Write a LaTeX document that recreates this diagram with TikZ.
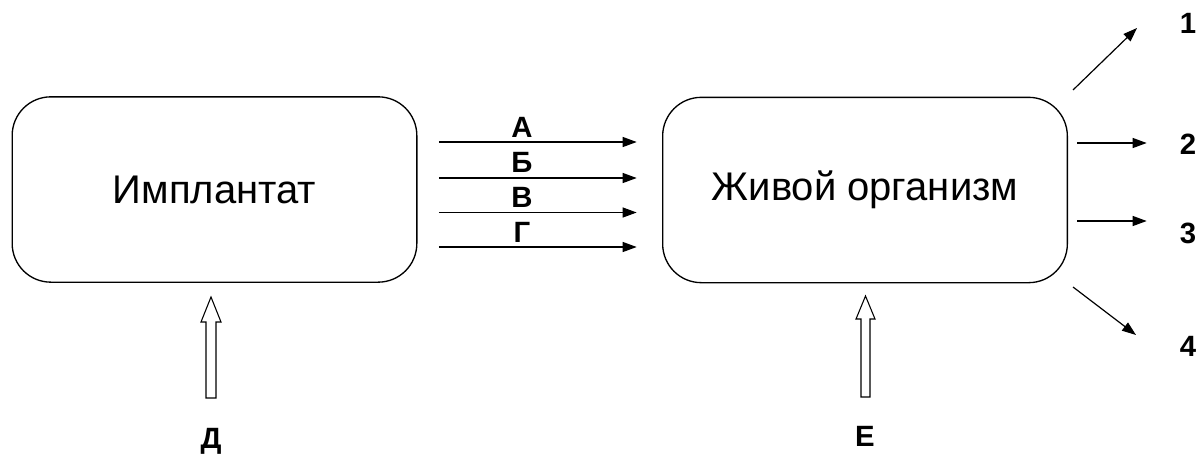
\documentclass[tikz,border=0pt]{standalone}
\usepackage{fontspec}
\setmainfont{Liberation Sans}
\usetikzlibrary{arrows.meta,calc}
\begin{document}
\begin{tikzpicture}[x=0.75pt,y=-0.75pt,
  box/.style={draw,line width=1pt,rounded corners=29pt,minimum width=303.5pt,minimum height=139pt,inner sep=0pt,font=\fontsize{30}{34}\selectfont},
  arr/.style={line width=0.9pt,-{Triangle[length=10.5pt,width=7.5pt]}},
  lab/.style={font=\fontsize{22}{24}\selectfont\bfseries,inner sep=0pt},
  hollow/.style={draw,line width=0.8pt,fill=white,line join=miter}]
\useasboundingbox (0,0) rectangle (1196,457);
\node[box] (impl) at (214.5,189.5) {Имплантат};
\node[box] (org) at (865,190) {Живой организм};
% flows
\foreach \yy in {142,178,212.5,247}{
  \draw[arr,shorten <=16pt,shorten >=19pt] (impl.east |- 0,\yy) -- (org.west |- 0,\yy);
}
\node[lab] (la) at (522,127) {А};
\node[lab] (lb) at (522,162) {Б};
\node[lab] (lc) at (522,197) {В};
\node[lab] (ld) at (522,232) {Г};
% outputs
\node[lab] (n1) at (1188,23) {1};
\node[lab] (n2) at (1188,144) {2};
\node[lab] (n3) at (1188,233) {3};
\node[lab] (n4) at (1188,346) {4};
\coordinate (s1) at (1073,90);
\coordinate (e1) at (1137,28);
\coordinate (s4) at (1073,287);
\coordinate (e4) at (1136,335);
\draw[arr] (s1) -- (e1);
\draw[arr,shorten <=7pt,shorten >=31pt] (org.east |- 0,143) -- (n2.center |- 0,143);
\draw[arr,shorten <=7pt,shorten >=31pt] (org.east |- 0,221) -- (n3.center |- 0,221);
\draw[arr] (s4) -- (e4);
% inputs
\node[lab] (ld2) at (211,441) {Д};
\node[lab] (le) at (865,436) {Е};
\draw[hollow] (206,398) -- (206,322) -- (201,322) -- (211,297) -- (221,322) -- (216,322) -- (216,398) -- cycle;
\draw[hollow] (861,397) -- (861,319) -- (856,319) -- (865.5,296) -- (875,319) -- (870,319) -- (870,397) -- cycle;
\end{tikzpicture}
\end{document}
